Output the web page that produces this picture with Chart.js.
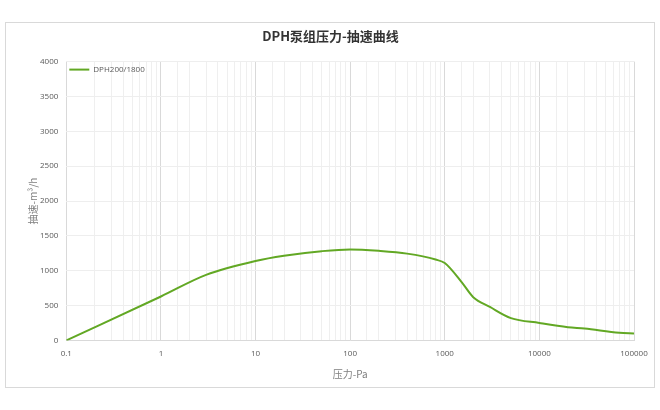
<!DOCTYPE html>
<html>
<head>
<meta charset="utf-8">
<script src="https://cdn.jsdelivr.net/npm/chart.js@4/dist/chart.umd.min.js"></script>
<style>
  body { margin: 0; background: #fff; }
  #wrap { position: relative; width: 660px; height: 410px; }
  #frame { position: absolute; left: 5px; top: 22px; width: 648px; height: 364px; border: 1px solid #d9d9d9; }
  canvas { position: absolute; left: 0; top: 0; }
</style>
</head>
<body>
<div id="wrap">
  <div id="frame"></div>
  <canvas id="chart" width="660" height="410"></canvas>
</div>
<script>
// pressure in Pa, pumping speed in m3/h
const pressure = [0.1, 1, 3, 10, 20, 50, 100, 200, 400, 800, 1000, 1500, 2000, 3000, 5000, 10000, 20000, 30000, 70000, 100000];
const speed = [0, 630, 940, 1140, 1215, 1280, 1305, 1285, 1245, 1160, 1110, 840, 620, 480, 320, 250, 190, 170, 110, 100];
const seriesName = 'DPH200/1800';
const yTicks = [0, 500, 1000, 1500, 2000, 2500, 3000, 3500, 4000];

const points = pressure.map((p, i) => ({ x: p, y: speed[i] }));
const lineColor = '#62a824';

function isDecade(v) {
  const l = Math.log10(v);
  return Math.abs(l - Math.round(l)) < 1e-9;
}

// legend drawn inside the plot area, top left
const innerLegend = {
  id: 'innerLegend',
  afterDatasetsDraw(chart) {
    const c = chart.ctx;
    const a = chart.chartArea;
    const y = a.top + 8;
    c.save();
    c.strokeStyle = lineColor;
    c.lineWidth = 2;
    c.beginPath();
    c.moveTo(a.left + 3, y);
    c.lineTo(a.left + 23, y);
    c.stroke();
    c.fillStyle = '#595959';
    c.font = '8px "Open Sans"';
    c.textBaseline = 'middle';
    c.fillText(chart.data.datasets[0].label, a.left + 27, y);
    c.restore();
  }
};

const ctx = document.getElementById('chart').getContext('2d');
new Chart(ctx, {
  type: 'line',
  data: {
    datasets: [{
      label: seriesName,
      data: points,
      borderColor: lineColor,
      backgroundColor: lineColor,
      borderWidth: 2,
      pointRadius: 0,
      cubicInterpolationMode: 'monotone',
      fill: false
    }]
  },
  plugins: [innerLegend],
  options: {
    responsive: false,
    animation: false,
    layout: { padding: { left: 27, right: 26, top: 20, bottom: 26 } },
    plugins: {
      title: {
        display: true,
        text: 'DPH泵组压力-抽速曲线',
        color: '#333',
        font: { family: '"Noto Sans CJK SC", "Noto Sans"', size: 13, weight: 'bold' },
        padding: { top: 8, bottom: 18 }
      },
      legend: { display: false },
      tooltip: { enabled: false }
    },
    scales: {
      x: {
        type: 'logarithmic',
        min: 0.1,
        max: 100000,
        title: {
          display: true,
          text: '压力-Pa',
          color: '#7f7f7f',
          font: { family: '"Noto Sans CJK SC"', size: 10 },
          padding: { top: 0 }
        },
        ticks: {
          autoSkip: false,
          maxRotation: 0,
          color: '#595959',
          font: { family: '"Open Sans"', size: 8 },
          padding: 9,
          callback: function (v) {
            return isDecade(v) ? String(Number(v.toPrecision(6))) : '';
          }
        },
        grid: {
          color: function (c) {
            return c.tick && isDecade(c.tick.value) ? '#d9d9d9' : '#efefef';
          },
          drawTicks: false
        },
        border: { color: '#d9d9d9' }
      },
      y: {
        min: 0,
        max: 4000,
        afterBuildTicks: function (axis) {
          axis.ticks = yTicks.map(v => ({ value: v }));
        },
        title: {
          display: true,
          text: '抽速-m³/h',
          color: '#7f7f7f',
          font: { family: '"Noto Sans CJK SC"', size: 10 },
          padding: { top: 0, bottom: -7 }
        },
        ticks: {
          color: '#595959',
          font: { family: '"Open Sans"', size: 8 },
          padding: 8,
          callback: function (v) { return String(v); }
        },
        grid: { color: '#eeeeee', drawTicks: false },
        border: { display: false }
      }
    }
  }
});
</script>
</body>
</html>
